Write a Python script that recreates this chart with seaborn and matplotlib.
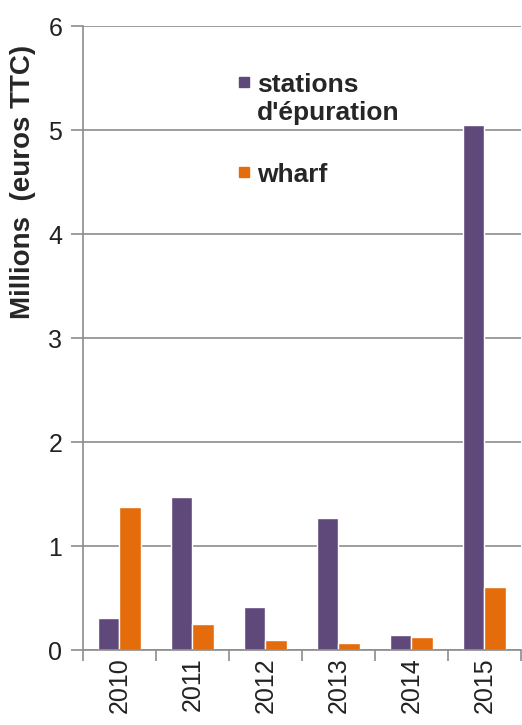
import matplotlib
matplotlib.use("Agg")
import matplotlib.pyplot as plt
from matplotlib.lines import Line2D
import seaborn as sns
import pandas as pd

years = ["2010", "2011", "2012", "2013", "2014", "2015"]
stations = [0.31, 1.47, 0.41, 1.27, 0.145, 5.05]
wharf = [1.38, 0.25, 0.10, 0.07, 0.13, 0.61]
series_names = ["stations\nd'épuration", "wharf"]
colors = ["#5F497A", "#E46C0A"]

df = pd.DataFrame({
    "annee": years * 2,
    "valeur": stations + wharf,
    "serie": [series_names[0]] * len(years) + [series_names[1]] * len(years),
})

sns.set_style("white")
plt.rcParams["font.family"] = ["Liberation Sans", "DejaVu Sans"]

fig = plt.figure(figsize=(5.22, 7.25), dpi=100)
ax = fig.add_axes([0.159, 0.1034, 0.839, 0.8606])

sns.barplot(data=df, x="annee", y="valeur", hue="serie", palette=colors,
            width=0.58, saturation=1, ax=ax, legend=False)

ax.set_ylim(0, 6)
ax.set_xlim(-0.5, 5.5)
ax.set_yticks(range(0, 7))
ax.yaxis.grid(True, color="#8C8C8C", linewidth=1.2)
ax.set_axisbelow(True)
for side in ["top", "right"]:
    ax.spines[side].set_visible(False)
for side in ["left", "bottom"]:
    ax.spines[side].set_color("#8C8C8C")
    ax.spines[side].set_linewidth(1.2)

ax.tick_params(axis="y", length=9, color="#8C8C8C", width=1.2,
               labelsize=18, labelcolor="#222222", pad=6, left=True)
ax.tick_params(axis="x", which="major", length=0, labelsize=18,
               labelcolor="#222222", labelrotation=90, pad=5)
ax.set_xticks([i - 0.5 for i in range(7)], minor=True)
ax.tick_params(axis="x", which="minor", length=8, color="#8C8C8C",
               width=1.2, bottom=True)

ax.set_xlabel("")
ax.set_ylabel("Millions  (euros TTC)", fontsize=20, fontweight="bold")
ax.yaxis.set_label_coords(-0.107, 0.75)

handles = [Line2D([], [], marker="s", linestyle="", color=c, markersize=7.5)
           for c in colors]
leg = ax.legend(handles=handles, labels=series_names,
                loc="upper left", bbox_to_anchor=(0.352, 0.925), frameon=False,
                handlelength=0.55, handleheight=0.7, handletextpad=0.2,
                labelspacing=1.45, borderpad=0, borderaxespad=0,
                prop={"weight": "bold", "size": 19})
# square next to the first line of each label, as in the source chart
for row in leg._legend_handle_box.get_children()[0].get_children():
    row.align = "top"
    row.get_children()[0].set_offset((0, -2))

fig.savefig("out.png", dpi=100)
